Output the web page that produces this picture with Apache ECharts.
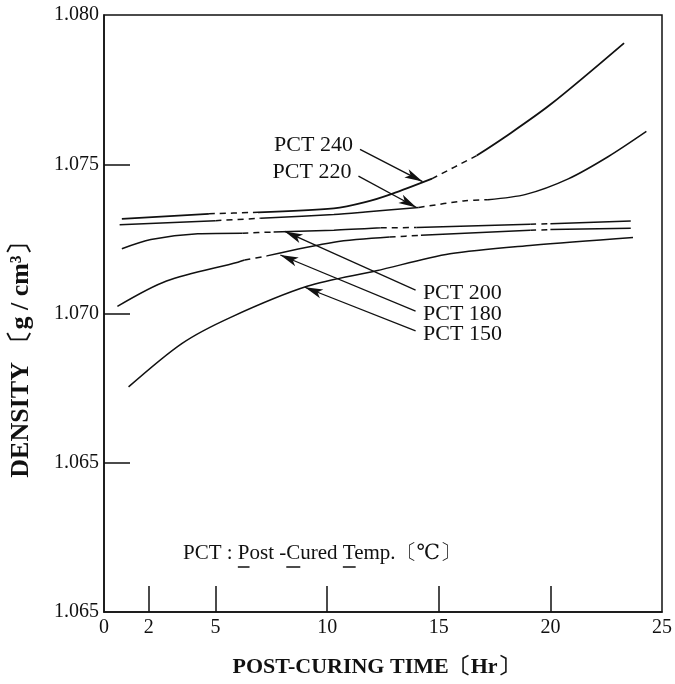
<!DOCTYPE html>
<html>
<head>
<meta charset="utf-8">
<script src="https://cdn.jsdelivr.net/npm/echarts@6/dist/echarts.min.js"></script>
<style>
  html, body { margin: 0; padding: 0; background: #fff; }
  #chart { width: 675px; height: 684px; }
</style>
</head>
<body>
<div id="chart"></div>
<script>
// axis ticks and labels
var xLabelValues = [0, 2, 5, 10, 15, 20, 25];
var xTickValues = [2, 5, 10, 15, 20];
var yLabelValues = [1.060, 1.065, 1.070, 1.075, 1.080];
var yLabelTexts = ['1.065', '1.065', '1.070', '1.075', '1.080'];   // as printed (bottom reads 1.065)
var yTickValues = [1.065, 1.070, 1.075];

// curves [hr, g/cm3], and the stretches drawn broken
var pct240 = [[0.8,1.07317],[4.7,1.07334],[6.9,1.07339],[10.3,1.07352],[11.7,1.07373],[12.9,1.07401],[14.7,1.07452],[16.7,1.07529],[17.9,1.07588],[20.0,1.07700],[23.3,1.07906]];
var dash240 = [[4.7,6.9],[14.7,16.7]];
var pct220 = [[0.7,1.07297],[5.0,1.07311],[7.0,1.07319],[10.3,1.07332],[11.7,1.07340],[14.1,1.07355],[16.1,1.07377],[17.2,1.07381],[18.9,1.07399],[20.8,1.07451],[22.6,1.07526],[24.3,1.07610]];
var dash220 = [[5.0,7.0],[14.1,17.2]];
var pct200 = [[0.8,1.07217],[2.1,1.07248],[4.2,1.07267],[6.2,1.07269],[7.6,1.07273],[10.3,1.07279],[12.4,1.07287],[14.0,1.07288],[19.1,1.07299],[20.0,1.07301],[23.6,1.07310]];
var dash200 = [[6.2,7.6],[12.4,14.0],[19.1,20.0]];
var pct180 = [[0.6,1.07024],[2.8,1.07109],[6.0,1.07172],[6.3,1.07179],[7.3,1.07193],[10.3,1.07239],[12.8,1.07256],[14.2,1.07262],[19.1,1.07279],[20.0,1.07281],[23.6,1.07286]];
var dash180 = [[6.3,7.3],[12.8,14.2],[19.1,20.0]];
var pct150 = [[1.1,1.06754],[3.5,1.06900],[5.7,1.06988],[9.1,1.07091],[12.2,1.07143],[15.5,1.07200],[19.2,1.07229],[23.7,1.07255]];
var dash150 = [];

// callouts
var calloutNames = ['PCT 240', 'PCT 220', 'PCT 200', 'PCT 180', 'PCT 150'];
var calloutFrom = [[11.47,1.07550],[11.4,1.07460],[13.96,1.07078],[13.96,1.07008],[13.96,1.06942]];
var calloutTo = [[14.27,1.07442],[14.0,1.07355],[8.1,1.07275],[7.9,1.07196],[9.0,1.07088]];

var serif = '"Liberation Serif", "DejaVu Serif", serif';

// split a curve into runs of solid / dashed segments, joined by gaps
function splitCurve(pts, dashes) {
  var solid = [], dashed = [], prevType = null;
  for (var i = 1; i < pts.length; i++) {
    var mid = (pts[i-1][0] + pts[i][0]) / 2;
    var isDash = dashes.some(function (d) { return mid > d[0] && mid < d[1]; });
    var arr = isDash ? dashed : solid;
    if (prevType !== isDash) {
      if (arr.length) arr.push([pts[i-1][0], '-']);
      arr.push(pts[i-1]);
    }
    arr.push(pts[i]);
    prevType = isDash;
  }
  return { solid: solid, dashed: dashed };
}

var curves = [pct240, pct220, pct200, pct180, pct150];
var dashSets = [dash240, dash220, dash200, dash180, dash150];
var series = [];
curves.forEach(function (c, i) {
  var parts = splitCurve(c, dashSets[i]);
  series.push({
    type: 'line', data: parts.solid, smooth: 0.3, showSymbol: false, connectNulls: false,
    lineStyle: { color: '#111', width: i == 0 ? 1.8 : 1.5 }, silent: true
  });
  series.push({
    type: 'line', data: parts.dashed, smooth: 0.3, showSymbol: false, connectNulls: false,
    lineStyle: { color: '#111', width: 1.5, type: [6, 5] }, silent: true
  });
});

series.push({
  type: 'line', data: [], silent: true,
  markLine: {
    silent: true, animation: false,
    symbol: ['none', 'arrow'], symbolSize: [7, 18],
    lineStyle: { color: '#111', width: 1.3, type: 'solid' },
    label: {
      show: true, position: 'start', distance: 8,
      formatter: function (p) { return p.name; },
      color: '#111', fontSize: 22, fontFamily: serif
    },
    data: calloutNames.map(function (n, i) {
      return [{ name: n, coord: calloutFrom[i] }, { coord: calloutTo[i] }];
    })
  }
});

var myChart = echarts.init(document.getElementById('chart'));
var option = {
  animation: false,
  backgroundColor: '#fff',
  grid: { left: 103, right: 5, top: 15, bottom: 72, show: true, borderColor: '#111', borderWidth: 1.5 },
  xAxis: {
    type: 'value', min: 0, max: 25,
    name: 'POST-CURING TIME〔Hr〕', nameLocation: 'middle', nameGap: 44,
    nameTextStyle: { fontFamily: serif, fontSize: 22, color: '#111', fontWeight: 'bold', padding: [0, 14, 0, 0] },
    axisLine: { lineStyle: { color: '#111', width: 1.5 } },
    axisTick: { inside: true, length: 26, customValues: xTickValues, lineStyle: { color: '#111', width: 1.5 } },
    axisLabel: { customValues: xLabelValues, margin: 6, fontFamily: serif, fontSize: 20, color: '#111' },
    splitLine: { show: false }
  },
  yAxis: {
    type: 'value', min: 1.060, max: 1.080,
    name: 'DENSITY 〔g / cm³〕', nameLocation: 'middle', nameGap: 70,
    nameTextStyle: { fontFamily: serif, fontSize: 26, color: '#111', fontWeight: 'bold', padding: [0, 80, 0, 0] },
    axisLine: { lineStyle: { color: '#111', width: 1.5 } },
    axisTick: { inside: true, length: 26, customValues: yTickValues, lineStyle: { color: '#111', width: 1.5 } },
    axisLabel: {
      customValues: yLabelValues, margin: 5, fontFamily: serif, fontSize: 20, color: '#111',
      formatter: function (v) {
        for (var i = 0; i < yLabelValues.length; i++) {
          if (Math.abs(v - yLabelValues[i]) < 1e-6) return yLabelTexts[i];
        }
        return '';
      }
    },
    splitLine: { show: false }
  },
  series: series
};
myChart.setOption(option);

// note with underlined initials
var note = ['PCT : ', 'P', 'ost -', 'C', 'ured ', 'T', 'emp.〔℃〕'];
var noteFont = '21px ' + serif;
var ctx = document.createElement('canvas').getContext('2d');
ctx.font = noteFont;
var gx = 183, gy = 553, els = [], pos = 0;
note.forEach(function (s, i) {
  var w = ctx.measureText(s).width;
  if (i % 2 == 1) {
    els.push({ type: 'line', shape: { x1: gx + pos, y1: gy + 14, x2: gx + pos + w, y2: gy + 14 }, style: { stroke: '#111', lineWidth: 1.5 } });
  }
  pos += w;
});
els.push({ type: 'text', x: gx, y: gy, style: { text: note.join(''), font: noteFont, fill: '#111', verticalAlign: 'middle' } });
myChart.setOption({ graphic: els });
</script>
</body>
</html>
